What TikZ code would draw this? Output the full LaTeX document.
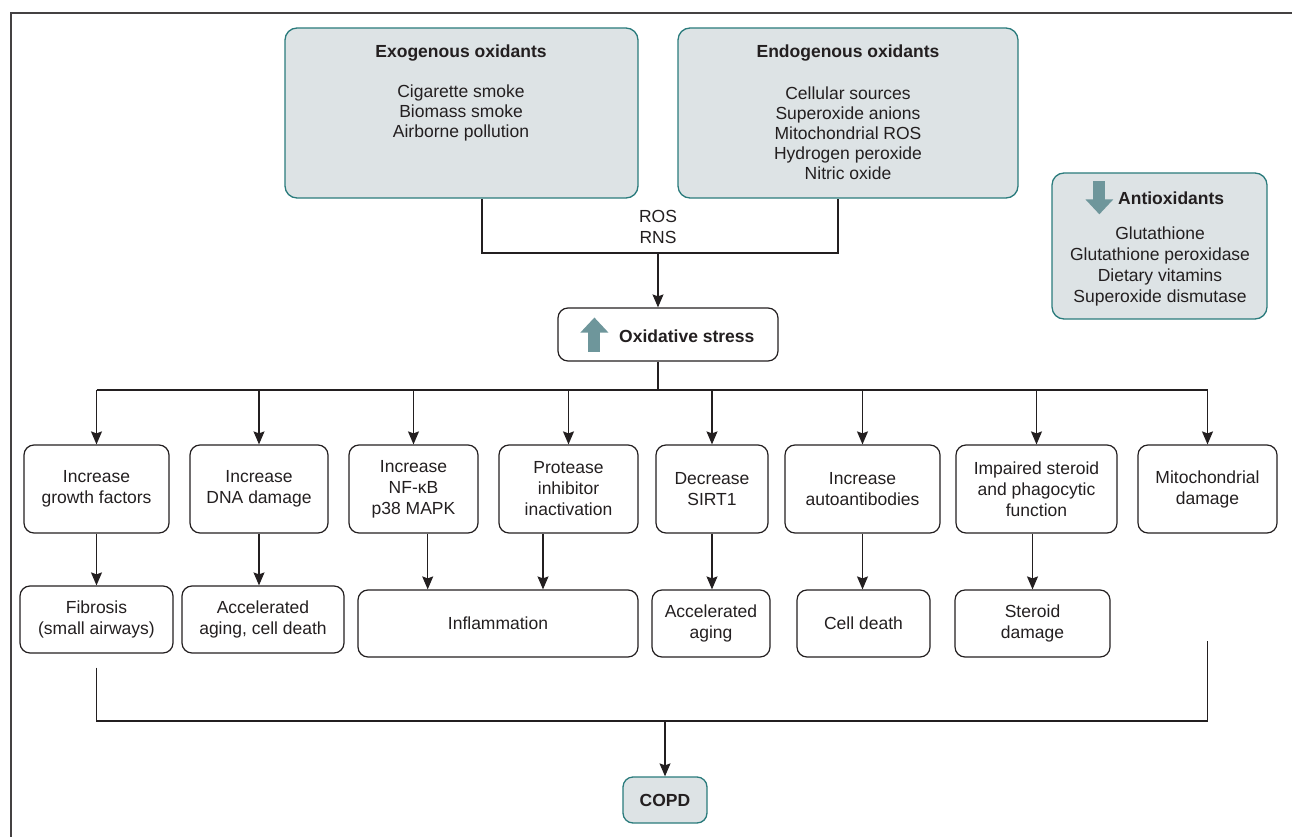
\documentclass[tikz,border=0pt]{standalone}
\usepackage{fontspec}
\setmainfont{Liberation Sans}
\usetikzlibrary{arrows.meta, positioning, calc}
\definecolor{boxfill}{HTML}{DDE3E5}
\definecolor{boxline}{HTML}{2A7B7C}
\definecolor{fatcol}{HTML}{6E969B}
\definecolor{ink}{HTML}{231F20}

\begin{document}
\begin{tikzpicture}[x=1pt, y=-1pt,
    every node/.style={font=\fontsize{17.5}{21}\selectfont, text=ink},
    source/.style={draw=boxline, fill=boxfill, line width=1.3pt, rounded corners=12pt, minimum width=#1, minimum height=170pt},
    effect/.style={draw=ink, line width=1.2pt, rounded corners=10pt, align=center, minimum width=#1, minimum height=88pt, inner sep=2pt},
    result/.style={effect=#1, minimum height=67pt},
    txt/.style={align=center, inner sep=0pt},
    list/.style={txt, font=\fontsize{17.5}{20}\selectfont},
    wire/.style={draw=ink, line width=1.2pt},
    arr/.style={wire, -{Stealth[length=13pt,width=11pt,inset=2pt]}},
    fat/.style={draw=fatcol, line width=12pt, -{Triangle[length=15pt,width=27pt]}}
    ]
    \useasboundingbox (0,0) rectangle (1292,837);
    \draw[ink!85, line width=2pt] (11,837) -- (11,13) -- (1292,13);

    % oxidant sources
    \node[source=353pt] (exo) at (461.5,113) {};
    \node[txt] (exotitle) at (461,53) {\textbf{Exogenous oxidants}};
    \node[list, below of=exotitle, node distance=60pt] (exolist) {
        Cigarette smoke\\Biomass smoke\\Airborne pollution
    };

    \node[source=340pt] (endo) at (848,113) {};
    \node[txt] (endotitle) at (848,53) {\textbf{Endogenous oxidants}};
    \node[list, below of=endotitle, node distance=80pt] (endolist) {
        Cellular sources\\Superoxide anions\\Mitochondrial ROS\\Hydrogen peroxide\\Nitric oxide
    };

    \node[source=215pt, minimum height=146pt] (antiox) at (1159.5,246) {};
    \node[txt, anchor=west] (antitl) at (1118,198) {\textbf{Antioxidants}};
    \node[list, font=\fontsize{17.5}{21}\selectfont] (antilist) at (1160,266.5) {
        Glutathione\\Glutathione peroxidase\\Dietary vitamins\\Superoxide dismutase
    };
    \draw[fat] ([xshift=48pt,yshift=-9pt]antiox.north west) -- ([xshift=48pt,yshift=-42pt]antiox.north west);

    \node[txt] (ros) at (658,227) {ROS\\RNS};

    % oxidative stress
    \node[effect=220pt, minimum height=53pt] (stress) at (668,334.5) {};
    \node[txt, anchor=west] (stresstxt) at (619,336) {\textbf{Oxidative stress}};
    \draw[fat] ([xshift=37pt,yshift=-17pt]stress.west) -- ([xshift=37pt,yshift=17pt]stress.west);

    \coordinate (jl) at (482,253);
    \coordinate (jr) at (838,253);
    \coordinate (jm) at (658,253);
    \draw[wire] (exo.south -| jl) -- (jl) -- (jr) -- (endo.south -| jr);
    \draw[arr] (jm) -- (stress.north -| jm);

    % first row
    \node[effect=145pt] (growth) at (96.5,489) {Increase\\growth factors};
    \node[effect=138pt] (dna) at (259,489) {Increase\\DNA damage};
    \node[effect=129pt] (nfkb) at (413.5,489) {Increase\\NF-κB\\p38 MAPK};
    \node[effect=139pt] (protease) at (568.5,489) {Protease\\inhibitor\\inactivation};
    \node[effect=112pt] (sirt) at (712,489) {Decrease\\SIRT1};
    \node[effect=155pt] (autoab) at (862.5,489) {Increase\\autoantibodies};
    \node[effect=161pt] (impaired) at (1036.5,489) {Impaired steroid\\and phagocytic\\function};
    \node[effect=139pt] (mito) at (1207.5,489) {Mitochondrial\\damage};

    \coordinate (bus) at (658,390);
    \draw[wire] (stress.south -| bus) -- (bus);
    \draw[wire] (growth.north |- bus) -- (mito.north |- bus);
    \foreach \n in {growth,dna,nfkb,protease,sirt,autoab,impaired,mito}
        \draw[arr] (\n.north |- bus) -- (\n.north);

    % second row
    \node[result=153pt] (fibrosis) at (96.5,619.5) {Fibrosis\\(small airways)};
    \node[result=162pt] (agecd) at (263,619.5) {Accelerated\\aging, cell death};
    \node[result=280pt] (inflam) at (498,623.5) {Inflammation};
    \node[result=118pt] (aging) at (711,623.5) {Accelerated\\aging};
    \node[result=133pt] (celldeath) at (863.5,623.5) {Cell death};
    \node[result=155pt] (steroid) at (1032.5,623.5) {Steroid\\damage};

    \coordinate (in1) at ($(inflam.north west)!0.25!(inflam.north east)$);
    \coordinate (in2) at ($(inflam.north west)!0.66!(inflam.north east)$);
    \draw[arr] (growth.south) -- (growth.south |- fibrosis.north);
    \draw[arr] (dna.south) -- (dna.south |- agecd.north);
    \draw[arr] (nfkb.south -| in1) -- (in1);
    \draw[arr] (protease.south -| in2) -- (in2);
    \draw[arr] (sirt.south) -- (sirt.south |- aging.north);
    \draw[arr] (autoab.south) -- (autoab.south |- celldeath.north);
    \draw[arr] (steroid.north |- impaired.south) -- (steroid.north);

    % outcome
    \node[source=84pt, minimum height=46pt, rounded corners=10pt] (copd) at (665,800) {\textbf{COPD}};
    \coordinate (br) at (1207.5,721);
    \draw[wire] ([yshift=-14pt]fibrosis.south) |- (br) -- ([yshift=-107pt]mito.south);
    \draw[arr] (copd.north |- br) -- (copd.north);
\end{tikzpicture}
\end{document}
